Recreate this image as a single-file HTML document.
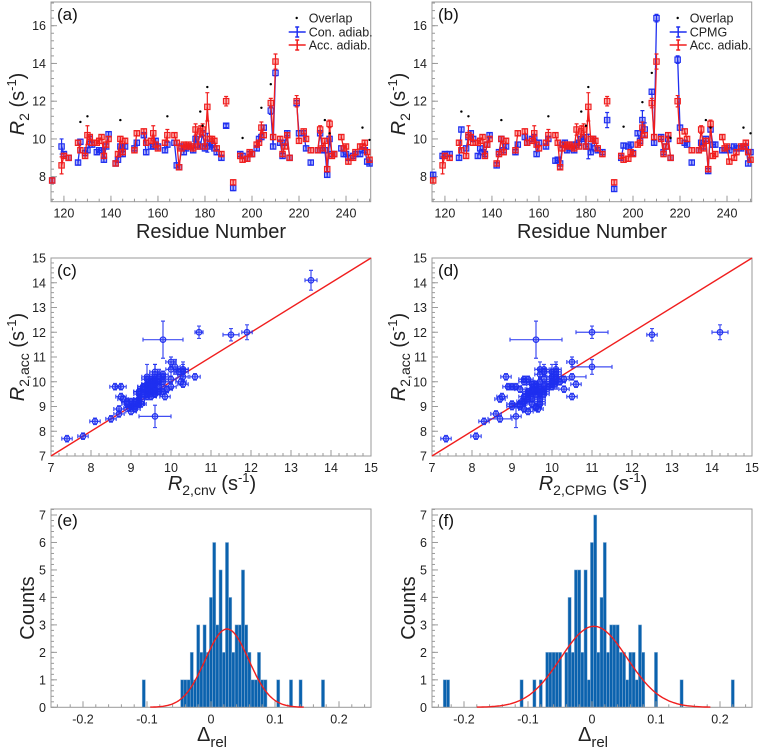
<!DOCTYPE html>
<html><head><meta charset="utf-8"><style>
html,body{margin:0;padding:0;background:#fff;}
svg{display:block;font-family:"Liberation Sans",sans-serif;}
</style></head><body>
<svg id="fig" width="764" height="754" viewBox="0 0 764 754" xmlns="http://www.w3.org/2000/svg"></svg>
<script>
// ---------- data ----------
const residues = [115,119,120,122,126,127,129,130,131,132,134,135,136,137,138,139,142,143,144,145,146,150,151,154,155,157,158,159,160,163,164,167,168,169,170,171,172,173,174,175,176,177,178,179,180,181,182,183,184,185,187,189,192,195,196,198,199,200,202,203,204,205,208,209,210,212,213,214,215,216,219,220,222,223,225,228,229,230,231,232,233,234,235,238,239,240,241,243,244,246,247,248,249,250];
const r2Acc = [7.8,8.6,9.1,9.0,9.8,9.4,9.1,10.2,10.1,9.8,9.8,9.9,10.1,9.1,9.7,10.0,8.7,9.2,10.0,9.3,9.9,9.4,10.3,10.4,9.8,9.9,10.3,9.7,9.5,9.8,10.2,10.2,9.8,8.5,9.5,9.7,9.6,9.7,9.6,9.5,10.5,9.6,10.4,10.5,9.6,11.7,10.0,10.0,9.9,9.5,9.2,12.0,7.7,9.1,8.9,8.95,9.3,9.2,9.7,9.8,10.6,10.2,11.9,10.1,14.1,10.0,9.2,9.6,10.2,9.0,12.0,9.9,10.4,10.0,9.4,9.4,10.5,9.5,9.9,8.4,10.8,9.1,9.2,10.1,9.5,9.6,8.8,9.0,9.3,9.6,9.6,9.8,9.3,8.9];
const r2Cnv = [7.8,9.6,9.2,9.0,8.75,9.85,9.25,9.4,10.0,9.7,9.3,9.4,9.4,8.9,9.6,10.25,8.7,8.9,9.6,9.2,9.6,9.5,9.8,10.2,9.3,9.6,9.6,9.9,9.6,9.4,9.7,9.8,8.6,8.5,9.6,9.3,9.5,9.6,9.6,9.4,10.0,9.7,9.6,10.3,9.5,9.8,9.6,9.7,9.5,9.3,9.0,10.7,7.4,9.2,9.1,8.95,9.2,9.2,9.5,10.0,10.1,10.6,11.5,9.6,13.5,9.8,9.1,9.8,10.3,9.0,11.9,10.3,10.3,9.5,8.75,9.4,10.3,9.4,9.4,8.1,10.0,9.2,9.2,9.5,9.2,9.2,9.0,9.1,9.2,9.2,9.4,9.4,8.8,8.7];
const r2Cpmg = [8.1,9.1,9.2,9.2,9.0,10.5,9.5,10.1,10.3,10.0,9.1,9.5,9.3,9.2,9.7,10.2,8.6,9.3,10.0,9.4,9.6,9.3,9.7,10.1,9.8,10.0,10.1,9.2,9.8,9.6,10.0,8.85,8.9,8.7,9.7,9.8,9.4,9.5,9.7,9.4,9.7,9.8,10.0,10.1,9.6,9.6,9.3,10.0,9.5,9.4,9.3,11.0,7.35,9.0,9.65,9.6,9.7,9.25,10.3,9.9,11.0,10.5,12.5,9.8,16.4,10.1,9.3,9.6,10.0,9.0,14.2,10.6,9.8,9.7,8.75,9.4,9.8,9.6,10.0,8.3,10.5,9.7,9.7,9.4,9.4,9.5,9.4,9.6,9.5,9.5,9.6,9.6,8.7,9.3];
const errAccRes = [119,130,158,164,176,181,204,210,233,189,208,219,229,178,179];
const errAccVal = [0.45,0.5,0.4,0.3,0.3,0.75,0.3,0.4,0.2,0.25,0.25,0.3,0.2,0.3,0.3];
const errCnvRes = [119,181,210,208,189];
const errCnvVal = [0.4,0.5,0.15,0.2,0.1];
const errCpmgRes = [181,189,204,205,210,219,169];
const errCpmgVal = [0.65,0.4,0.5,0.35,0.2,0.2,0.3];
const overlapARes = [127,130,144,164,178,179,181,196,204,208,231,233,247,250];
const overlapAVal = [10.9,11.2,11.0,11.2,11.45,10.7,12.75,10.05,11.65,12.9,11.0,10.3,10.6,9.95];
const overlapBRes = [127,130,144,164,178,180,181,196,204,208,216,231,233,247,250];
const overlapBVal = [11.45,11.2,11.0,11.2,11.45,10.7,12.75,10.65,11.95,13.5,10.05,11.0,10.6,10.6,10.3];
const histEBins = [-0.105,-0.045,-0.04,-0.035,-0.03,-0.025,-0.02,-0.015,-0.01,-0.005,0,0.005,0.01,0.015,0.02,0.025,0.03,0.035,0.04,0.045,0.05,0.055,0.06,0.065,0.07,0.075,0.08,0.085,0.105,0.125,0.14,0.175];
const histECounts = [1,1,1,1,2,1,3,2,3,2,4,6,3,5,2,6,4,2,3,3,5,3,2,1,1,2,1,1,1,1,1,1];
const histFBins = [-0.23,-0.225,-0.11,-0.09,-0.08,-0.07,-0.065,-0.06,-0.055,-0.05,-0.04,-0.035,-0.03,-0.025,-0.02,-0.015,-0.01,-0.005,0,0.005,0.01,0.015,0.02,0.025,0.03,0.035,0.04,0.045,0.05,0.055,0.06,0.065,0.07,0.075,0.08,0.1,0.14,0.22];
const histFCounts = [1,1,1,1,1,2,2,2,2,2,2,4,2,5,5,2,5,1,6,7,2,4,6,2,3,3,3,2,2,1,2,2,1,3,2,2,1,1];
const fitE = [2.85,0.025,0.034,-0.095,0.145];   // amplitude, mean, sigma, from, to
const fitF = [2.95,0.003,0.052,-0.18,0.185];
const resTicks = [120,140,160,180,200,220,240];
const r2Ticks = [8,10,12,14,16];
const scTicks = [7,8,9,10,11,12,13,14,15];
const cntTicks = [0,1,2,3,4,5,6,7];
const dTicks = [-0.2,-0.1,0,0.1,0.2];
const dTickLabels = ['-0.2','-0.1','0','0.1','0.2'];

// ---------- helpers ----------
const NS='http://www.w3.org/2000/svg';
const svg=document.getElementById('fig');
function mk(tag,attrs,parent){const e=document.createElementNS(NS,tag);for(const k in attrs)e.setAttribute(k,attrs[k]);(parent||svg).appendChild(e);return e;}
function lin(d0,d1,r0,r1){return v=>r0+(v-d0)*(r1-r0)/(d1-d0);}
function errOf(resArr,valArr,r,def){const i=resArr.indexOf(r);return i>=0?valArr[i]:def;}
const BLUE='#1f2ff0', RED='#f01e1e', AX='#9a9a9a';

function axes(g,x0,x1,y0,y1,sx,sy,xt,xl,xmin,yt,yl,ymin,xdom,ydom){
  const fr=mk('rect',{x:x0,y:y0,width:x1-x0,height:y1-y0,fill:'none',stroke:AX,'stroke-width':1},g);
  
  
  for(let v=xdom[0];v<=xdom[1]+1e-9;v+=xmin){const vv=Math.round(v/xmin)*xmin;const X=sx(vv);if(X<x0||X>x1)continue;
    const t=mk('line',{x1:X,x2:X,y1:y1,y2:y1-3,stroke:AX},g);
    
    }
  for(let v=ydom[0];v<=ydom[1]+1e-9;v+=ymin){const vv=Math.round(v/ymin)*ymin;const Y=sy(vv);if(Y<y0||Y>y1)continue;
    const t=mk('line',{x1:x0,x2:x0+3,y1:Y,y2:Y,stroke:AX},g);
    
    }
  xt.forEach((v,i)=>{const X=sx(v);
    const t=mk('line',{x1:X,x2:X,y1:y1,y2:y1-6,stroke:AX},g);
    
    
    const l=mk('text',{x:X,y:y1+16,'text-anchor':'middle','font-size':12.5,fill:'#222'},g);
    
    
    l.textContent=xl[i];});
  yt.forEach((v,i)=>{const Y=sy(v);
    const t=mk('line',{x1:x0,x2:x0+6,y1:Y,y2:Y,stroke:AX},g);
    
    
    const l=mk('text',{x:x0-5,y:Y+4.5,'text-anchor':'end','font-size':12.5,fill:'#222'},g);
    
    
    l.textContent=yl[i];});
}
function label(g,x,y,txt,name){const t=mk('text',{x:x,y:y,'font-size':17,fill:'#111'},g);
  
  
  t.textContent=txt;}
function ytitle(g,x,y,html,name){const t=mk('text',{x:0,y:0,transform:`translate(${x},${y}) rotate(-90)`,'text-anchor':'middle','font-size':20,fill:'#222'},g);
  
  
  t.innerHTML=html;}
function xtitle(g,x,y,html,name){const t=mk('text',{x:x,y:y,'text-anchor':'middle','font-size':20,fill:'#222'},g);
  
  
  t.innerHTML=html;}

// ---------- residue panels ----------
function seriesPanel(dx,tag,otherVals,otherErrRes,otherErrVal,otherName,ovRes,ovVal){
  const g=mk('g',{});
  
  
  const x0=51+dx,x1=370.7+dx,y0=2,y1=201.7;
  const sx=lin(114.5,250.5,x0,x1), sy=lin(8,16,176.7,25.7);
  axes(g,x0,x1,y0,y1,sx,sy,resTicks,resTicks.map(String),5,r2Ticks,r2Ticks.map(String),0.4,[115,250],[6.8,17.2]);
  function drawSeries(vals,eRes,eVal,col,name){
    const sg=mk('g',{},g);
    
    
    let d='';
    residues.forEach((r,i)=>{const X=sx(r),Y=sy(vals[i]);const brk=i===0||r-residues[i-1]>1;d+=(brk?'M':'L')+X.toFixed(1)+','+Y.toFixed(1);});
    const p=mk('path',{d:d,fill:'none',stroke:col,'stroke-width':1.3},sg);
    
    
    residues.forEach((r,i)=>{const X=sx(r),Y=sy(vals[i]);const e=errOf(eRes,eVal,r,0.13);
      const ya=sy(vals[i]+e),yb=sy(vals[i]-e);
      const eb=mk('path',{d:`M${X},${ya}V${yb}M${X-2},${ya}h4M${X-2},${yb}h4`,stroke:col,'stroke-width':1.2,fill:'none'},sg);
      
      
      const m=mk('rect',{x:X-2.7,y:Y-2.7,width:5.4,height:5.4,fill:col,'fill-opacity':0.35,stroke:col,'stroke-width':1.1},sg);
      
      });
  }
  drawSeries(otherVals,otherErrRes,otherErrVal,BLUE,otherName);
  drawSeries(r2Acc,errAccRes,errAccVal,RED,'acc-adiab');
  ovRes.forEach((r,i)=>{const c=mk('circle',{cx:sx(r),cy:sy(ovVal[i]),r:1.2,fill:'#000'},g);
    
    });
  label(g,x0+6,y0+18,tag,'panel-label');
  ytitle(g,dx+24,104,'<tspan font-style="italic">R</tspan><tspan font-size="14" dy="5">2</tspan><tspan dy="-5"> (s</tspan><tspan font-size="13" dy="-8">-1</tspan><tspan dy="8">)</tspan>','y-axis-title');
  xtitle(g,dx+211,238,'Residue Number','x-axis-title');
  // legend
  const lg=mk('g',{},g);
  
  
  const lx=x1-82;
  const dot=mk('circle',{cx:lx+8,cy:18,r:1.2,fill:'#000'},lg);
  
  
  const items=[['Overlap',null,18],[otherName==='cpmg'?'CPMG':'Con. adiab.',BLUE,32],['Acc. adiab.',RED,45]];
  items.forEach(it=>{
    if(it[1]){const s=mk('path',{d:`M${lx},${it[2]}h17M${lx+8.5},${it[2]-5}v10M${lx+6.5},${it[2]-5}h4M${lx+6.5},${it[2]+5}h4`,stroke:it[1],'stroke-width':1.5,fill:'none'},lg);
      
      }
    const t=mk('text',{x:lx+20,y:it[2]+4.5,'font-size':12.5,fill:'#222'},lg);
    
    
    t.textContent=it[0];});
}
seriesPanel(0,'(a)',r2Cnv,errCnvRes,errCnvVal,'con-adiab',overlapARes,overlapAVal);
seriesPanel(381,'(b)',r2Cpmg,errCpmgRes,errCpmgVal,'cpmg',overlapBRes,overlapBVal);

// ---------- scatter panels ----------
function scatterPanel(dx,tag,xVals,xeRes,xeVal,sub){
  const g=mk('g',{});
  
  
  const x0=51+dx,x1=371+dx,y0=258,y1=456;
  const sx=lin(7,15,x0,x1), sy=lin(7,15,y1,y0);
  axes(g,x0,x1,y0,y1,sx,sy,scTicks,scTicks.map(String),0.2,scTicks,scTicks.map(String),0.2,[7,15],[7,15]);
  const dl=mk('line',{x1:sx(7),y1:sy(7),x2:sx(15),y2:sy(15),stroke:RED,'stroke-width':1.4},g);
  
  
  residues.forEach((r,i)=>{const xv=xVals[i],yv=r2Acc[i];const ex=errOf(xeRes,xeVal,r,0.13),ey=errOf(errAccRes,errAccVal,r,0.13);
    const X=sx(xv),Y=sy(yv),xa=sx(xv-ex),xb=sx(xv+ex),ya=sy(yv+ey),yb=sy(yv-ey);
    const eb=mk('path',{d:`M${xa},${Y}H${xb}M${xa},${Y-2}v4M${xb},${Y-2}v4M${X},${ya}V${yb}M${X-2},${ya}h4M${X-2},${yb}h4`,stroke:BLUE,'stroke-width':1.2,fill:'none','stroke-opacity':0.85},g);
    
    
    const c=mk('circle',{cx:X,cy:Y,r:2.8,fill:BLUE,'fill-opacity':0.3,stroke:BLUE,'stroke-width':1.1},g);
    
    });
  label(g,x0+6,y0+18,tag,'panel-label');
  ytitle(g,dx+24,357,'<tspan font-style="italic">R</tspan><tspan font-size="14" dy="5">2,acc</tspan><tspan dy="-5"> (s</tspan><tspan font-size="13" dy="-8">-1</tspan><tspan dy="8">)</tspan>','y-axis-title');
  xtitle(g,dx+212,490,'<tspan font-style="italic">R</tspan><tspan font-size="14" dy="5">'+sub+'</tspan><tspan dy="-5"> (s</tspan><tspan font-size="13" dy="-8">-1</tspan><tspan dy="8">)</tspan>','x-axis-title');
}
scatterPanel(0,'(c)',r2Cnv,errCnvRes,errCnvVal,'2,cnv');
scatterPanel(381,'(d)',r2Cpmg,errCpmgRes,errCpmgVal,'2,CPMG');

// ---------- histogram panels ----------
function histPanel(dx,tag,bins,counts,fit){
  const g=mk('g',{});
  
  
  const x0=51+dx,x1=371+dx,y0=509,y1=707.3;
  const sx=lin(-0.25,0.25,x0,x1), sy=lin(0,1,y1,y1-27.47);
  bins.forEach((b,i)=>{const xa=sx(b-0.0025),xb=sx(b+0.0025);
    const r=mk('rect',{x:xa,y:sy(counts[i]),width:xb-xa,height:y1-sy(counts[i]),fill:'#0a62ae',stroke:'#8fb4d8','stroke-width':0.5},g);
    
    });
  axes(g,x0,x1,y0,y1,sx,sy,dTicks,dTickLabels,0.02,cntTicks,cntTicks.map(String),0.2,[-0.25,0.25],[0,7.2]);
  let d='';
  for(let k=0;k<=120;k++){const v=fit[3]+(fit[4]-fit[3])*k/120;const c=fit[0]*Math.exp(-0.5*Math.pow((v-fit[1])/fit[2],2));d+=(k?'L':'M')+sx(v).toFixed(1)+','+sy(c).toFixed(1);}
  const p=mk('path',{d:d,fill:'none',stroke:RED,'stroke-width':1.4},g);
  
  
  label(g,x0+6,y0+17,tag,'panel-label');
  ytitle(g,dx+34,608,'Counts','y-axis-title');
  xtitle(g,dx+212,741,'Δ<tspan font-size="15" dy="6">rel</tspan>','x-axis-title');
}
histPanel(0,'(e)',histEBins,histECounts,fitE);
histPanel(381,'(f)',histFBins,histFCounts,fitF);
</script>
</body></html>
